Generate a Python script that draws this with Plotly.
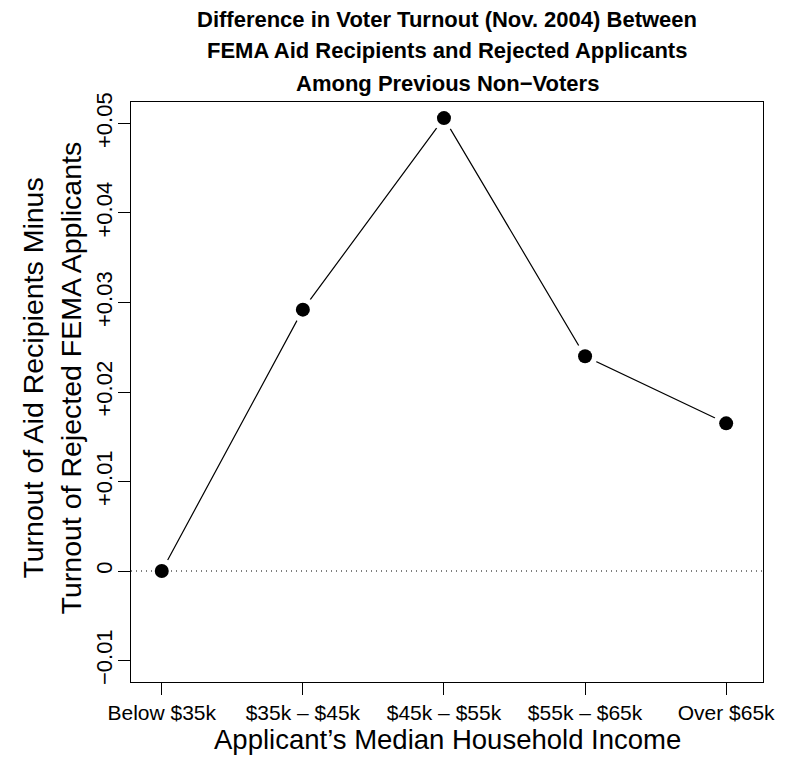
import plotly.graph_objects as go

# Income groups and turnout differences (aid recipients minus rejected applicants)
income_groups = ["Below $35k", "$35k – $45k", "$45k – $55k", "$55k – $65k", "Over $65k"]
turnout_diff = [0.0, 0.0292, 0.0506, 0.0240, 0.0165]

y_tick_vals = [-0.01, 0.0, 0.01, 0.02, 0.03, 0.04, 0.05]
y_tick_text = ["\u22120.01", "0", "+0.01", "+0.02", "+0.03", "+0.04", "+0.05"]

x_pos = list(range(1, len(income_groups) + 1))

FONT = "Liberation Sans Narrow, Liberation Sans, Arial, sans-serif"
FONT_REG = "Liberation Sans, Arial, sans-serif"

W, H = 787, 764
L, R, T, B = 131, 20, 102, 82
PH = H - T - B


def py(pix):
    """Convert a pixel row to paper y."""
    return (H - B - pix) / PH


def px(pix):
    return (pix - L) / (W - L - R)


fig = go.Figure()

# connecting line
fig.add_trace(go.Scatter(
    x=x_pos, y=turnout_diff, mode="lines",
    line=dict(color="black", width=1.2), hoverinfo="skip", showlegend=False))
# white halo that opens a gap in the line around each point
fig.add_trace(go.Scatter(
    x=x_pos, y=turnout_diff, mode="markers",
    marker=dict(color="white", size=25, line=dict(width=0)),
    hoverinfo="skip", showlegend=False))
# points
fig.add_trace(go.Scatter(
    x=x_pos, y=turnout_diff, mode="markers",
    marker=dict(color="black", size=14, line=dict(width=0)),
    showlegend=False))

# dotted reference line at zero
fig.add_shape(type="line", xref="paper", x0=0, x1=1, yref="y", y0=0, y1=0,
              line=dict(color="black", width=1, dash="1px,4px"), layer="above")

title_lines = [
    "Difference in Voter Turnout (Nov. 2004) Between",
    "FEMA Aid Recipients and Rejected Applicants",
    "Among Previous Non\u2212Voters",
]
for line, ypix in zip(title_lines, [19, 51, 83]):
    fig.add_annotation(text="<b>%s</b>" % line, xref="paper", yref="paper",
                       x=0.5, y=py(ypix), showarrow=False,
                       xanchor="center", yanchor="middle",
                       font=dict(family=FONT, size=22, color="black"))

for line, xpix in zip(["Turnout of Aid Recipients Minus",
                       "Turnout of Rejected FEMA Applicants"], [32, 71]):
    fig.add_annotation(text=line, xref="paper", yref="paper",
                       x=px(xpix), y=py(378), showarrow=False, textangle=-90,
                       xanchor="center", yanchor="middle",
                       font=dict(family=FONT_REG, size=28.5, color="black"))

fig.add_annotation(text="Applicant\u2019s Median Household Income",
                   xref="paper", yref="paper", x=0.5, y=py(739),
                   showarrow=False, xanchor="center", yanchor="middle",
                   font=dict(family=FONT_REG, size=27.5, color="black"))

fig.update_layout(
    width=W, height=H,
    margin=dict(l=L, r=R, t=T, b=B),
    paper_bgcolor="white", plot_bgcolor="white",
    font=dict(family=FONT, color="black"),
    xaxis=dict(
        range=[0.782, 5.261], tickmode="array", tickvals=x_pos,
        ticktext=income_groups, ticks="outside", ticklen=12, tickwidth=1,
        tickcolor="black", showgrid=False, zeroline=False,
        showline=True, linecolor="black", linewidth=1.3, mirror=True,
        tickfont=dict(family=FONT, size=21, color="black")),
    yaxis=dict(
        range=[-0.0124, 0.0524], tickmode="array", tickvals=y_tick_vals,
        ticktext=y_tick_text, ticks="outside", ticklen=12, tickwidth=1,
        tickcolor="black", tickangle=-90, showgrid=False, zeroline=False,
        showline=True, linecolor="black", linewidth=1.3, mirror=True,
        ticklabelstandoff=-3,
        tickfont=dict(family=FONT_REG, size=22, color="black")),
)

fig.write_html("out.html")
